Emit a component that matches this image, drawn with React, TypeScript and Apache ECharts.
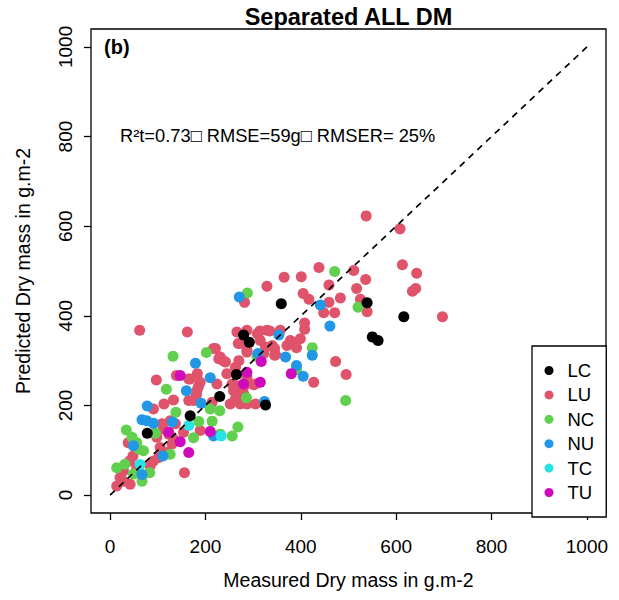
import React, { useEffect, useRef } from "react";
import * as echarts from "echarts";

const tickValues = [0, 200, 400, 600, 800, 1000];
const seriesNames = ["LC", "LU", "NC", "NU", "TC", "TU"];
const seriesColors = ["#000000", "#DF536B", "#61D04F", "#2297E6", "#28E2E5", "#CD0BBC"];

const LC = [[78,138],[168,177],[230,220],[265,269],[280,357],[292,341],[326,201],[359,427],[539,429],[550,353],[562,345],[616,398]];

const LU = [
[14,20],[21,39],[28,31],[42,24],[28,54],[38,117],[48,87],[41,76],[56,61],[84,65],
[91,76],[102,84],[119,95],[105,106],[130,114],[98,129],[112,147],[123,136],[133,125],[154,140],
[109,159],[126,166],[137,159],[91,192],[113,203],[133,212],[165,211],[175,211],[181,224],[182,233],
[185,241],[189,252],[165,259],[168,259],[183,271],[139,267],[97,257],[62,368],[162,364],[156,50],
[189,144],[214,207],[224,248],[252,203],[273,203],[305,203],[259,233],[266,229],[263,215],[280,226],
[287,203],[280,241],[301,246],[305,248],[266,244],[256,248],[245,271],[287,263],[263,285],
[217,327],[221,327],[231,308],[228,304],[238,299],[242,297],[270,300],[269,338],[287,319],[287,323],
[272,338],[315,345],[322,316],[340,334],[345,327],[345,312],[347,313],[326,330],[371,334],[266,364],
[287,368],[309,360],[314,366],[329,368],[335,366],[357,368],[384,336],[391,329],[378,345],[399,349],
[408,384],[408,370],[473,298],[495,269],[427,252],[282,430],[329,466],[365,486],[401,487],[438,508],
[511,501],[536,481],[613,514],[643,495],[634,455],[641,461],[537,623],[608,594],[459,469],[517,461],
[405,450],[417,437],[483,440],[459,430],[448,407],[471,407],[525,437],[539,409],[697,398]
];

const NC = [[14,61],[31,69],[34,145],[46,129],[49,47],[56,117],[60,103],[67,31],[70,99],[83,50],[95,138],[118,236],[126,91],[132,310],[138,185],[175,128],[186,164],[202,318],[210,192],[214,165],[230,188],[231,136],[256,132],[268,152],[286,217],[288,451],[308,310],[391,280],[424,329],[471,499],[494,211],[520,419]];

const NU = [[49,110],[67,46],[67,168],[77,166],[78,199],[91,160],[111,87],[131,163],[160,233],[179,294],[191,205],[210,262],[217,132],[271,442],[310,316],[324,209],[354,357],[368,308],[391,289],[405,265],[424,312],[441,424],[461,377]];

const TC = [[63,68],[165,155],[233,132]];

const TU = [[123,140],[147,119],[147,267],[165,95],[210,142],[280,248],[287,274],[315,252],[317,298],[380,271]];

const seriesData = [LC, LU, NC, NU, TC, TU];
const drawOrder = ["LU", "NC", "NU", "TU", "TC", "LC"];
const identityLine = [[0, 0], [1000, 1000]];

const titleText = "Separated ALL DM";
const panelText = "(b)";
const statsText = "R²t=0.73□ RMSE=59g□ RMSER= 25%";
const xTitle = "Measured Dry mass in g.m-2";
const yTitle = "Predicted Dry mass in g.m-2";

const FONT = "'Liberation Sans', Arial, Helvetica, sans-serif";

export default function App() {
  const ref = useRef<HTMLDivElement>(null);
  useEffect(() => {
    if (!ref.current) return;
    const chart = echarts.init(ref.current, null, { renderer: "svg" });
    const scatterSeries = drawOrder.map((name) => {
      const i = seriesNames.indexOf(name);
      return {
        name,
        type: "scatter",
        data: seriesData[i],
        symbol: "circle",
        symbolSize: 11,
        itemStyle: { color: seriesColors[i], opacity: 1 },
        z: 2,
        emphasis: { disabled: true },
      };
    });
    const axisCommon = {
      type: "value",
      min: -40,
      max: 1040,
      splitLine: { show: false },
      axisLine: { show: false, onZero: false },
      axisTick: {
        show: true,
        inside: false,
        customValues: tickValues,
        length: 7,
        lineStyle: { color: "#000", width: 1.3 },
      },
    };
    const fmt = (v: number) => String(Math.round(v));
    chart.setOption({
      animation: false,
      color: seriesColors,
      grid: {
        left: 91,
        right: 13,
        top: 29,
        bottom: 87,
        show: true,
        borderColor: "#000",
        borderWidth: 1.3,
        backgroundColor: "transparent",
        outerBoundsMode: "none",
      },
      xAxis: {
        ...axisCommon,
        position: "bottom",
        axisLabel: {
          customValues: tickValues,
          formatter: fmt,
          fontSize: 19,
          color: "#000",
          fontFamily: FONT,
          margin: 24,
        },
      },
      yAxis: {
        ...axisCommon,
        position: "left",
        axisLabel: {
          customValues: tickValues,
          formatter: fmt,
          fontSize: 19,
          color: "#000",
          fontFamily: FONT,
          rotate: 90,
          margin: 16,
        },
      },
      legend: {
        data: seriesNames,
        orient: "vertical",
        left: 532,
        top: 346,
        icon: "circle",
        itemWidth: 27,
        itemHeight: 9,
        itemGap: 5.4,
        padding: [15, 12, 15, 12.5],
        borderColor: "#000",
        borderWidth: 1.3,
        borderRadius: 0,
        backgroundColor: "#fff",
        selectedMode: false,
        textStyle: { fontSize: 18.5, color: "#000", fontFamily: FONT },
      },
      series: [
        ...scatterSeries,
        {
          name: "1:1",
          type: "line",
          data: identityLine,
          symbol: "none",
          showSymbol: false,
          lineStyle: { color: "#000", width: 1.7, type: [6.5, 5.5] },
          z: 5,
          silent: true,
        },
      ],
      graphic: [
        {
          type: "text",
          x: 348.5,
          y: 17,
          style: {
            text: titleText,
            fill: "#000",
            fontSize: 23.5,
            fontWeight: "bold",
            fontFamily: FONT,
            align: "center",
            verticalAlign: "middle",
            textAlign: "center",
            textVerticalAlign: "middle",
          },
        },
        {
          type: "text",
          x: 104,
          y: 47,
          style: {
            text: panelText,
            fill: "#000",
            fontSize: 20,
            fontWeight: "bold",
            fontFamily: FONT,
            align: "left",
            verticalAlign: "middle",
            textAlign: "left",
            textVerticalAlign: "middle",
          },
        },
        {
          type: "text",
          x: 120,
          y: 135,
          style: {
            text: statsText,
            fill: "#000",
            fontSize: 18.3,
            fontFamily: FONT,
            align: "left",
            verticalAlign: "middle",
            textAlign: "left",
            textVerticalAlign: "middle",
          },
        },
        {
          type: "text",
          x: 348.5,
          y: 580,
          style: {
            text: xTitle,
            fill: "#000",
            fontSize: 19.5,
            fontFamily: FONT,
            align: "center",
            verticalAlign: "middle",
            textAlign: "center",
            textVerticalAlign: "middle",
          },
        },
        {
          type: "text",
          x: 23,
          y: 271,
          rotation: Math.PI / 2,
          style: {
            text: yTitle,
            fill: "#000",
            fontSize: 19.5,
            fontFamily: FONT,
            align: "center",
            verticalAlign: "middle",
            textAlign: "center",
            textVerticalAlign: "middle",
          },
        },
      ],
    });
    return () => chart.dispose();
  }, []);
  return (
    <div
      ref={ref}
      style={{ position: "fixed", left: 0, top: 0, width: 619, height: 600, background: "#fff" }}
    />
  );
}
